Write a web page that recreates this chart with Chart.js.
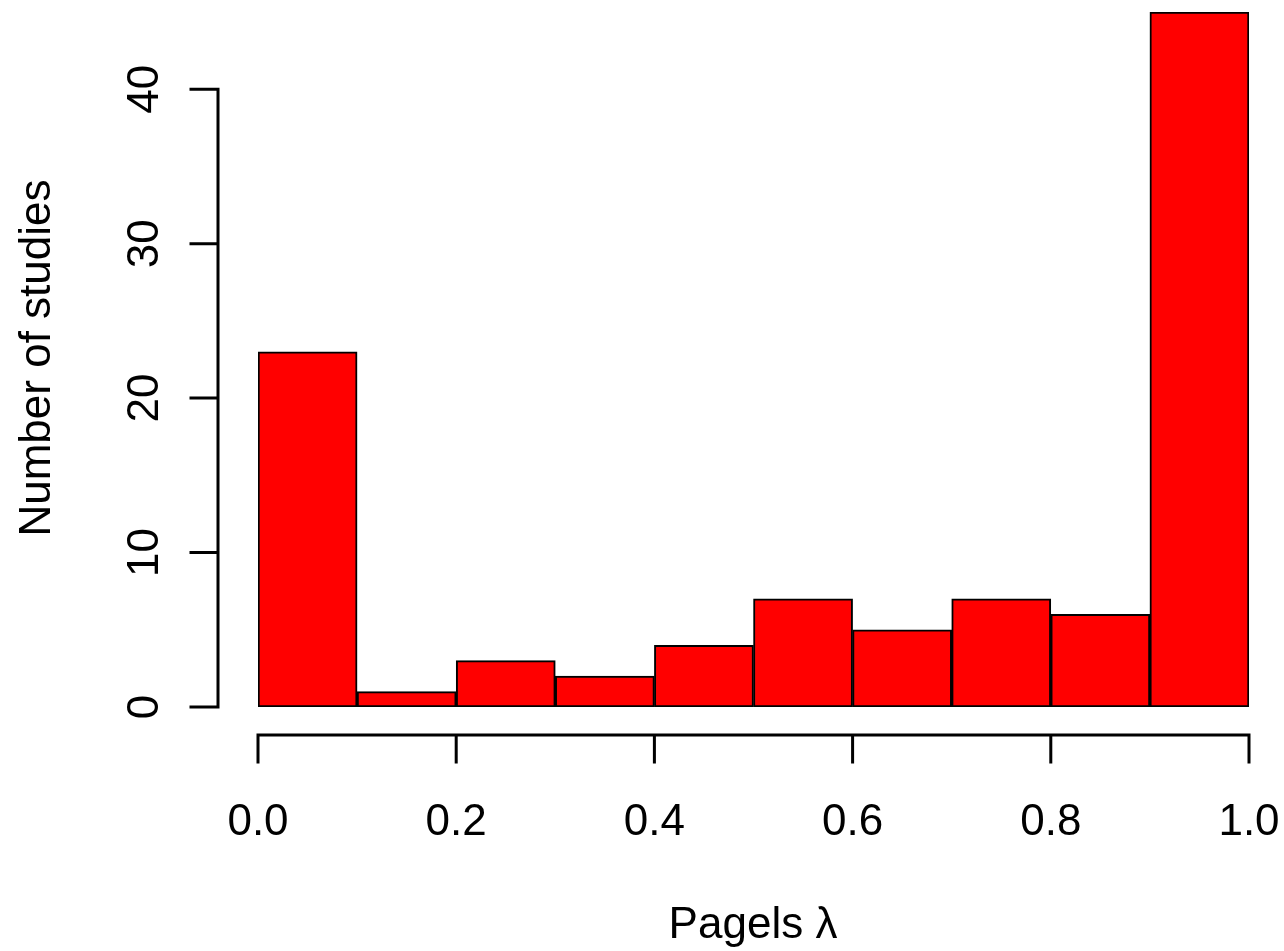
<!DOCTYPE html>
<html>
<head>
<meta charset="utf-8">
<script src="https://cdn.jsdelivr.net/npm/chart.js@4"></script>
<style>
  html, body { margin: 0; padding: 0; background: #fff; }
  canvas { display: block; }
</style>
</head>
<body>
<canvas id="hist" width="1284" height="951"></canvas>
<script>
// histogram bins (centres) and counts
const binCenters = [0.05, 0.15, 0.25, 0.35, 0.45, 0.55, 0.65, 0.75, 0.85, 0.95];
const counts = [23, 1, 3, 2, 4, 7, 5, 7, 6, 45];
const xTicks = [0, 0.2, 0.4, 0.6, 0.8, 1.0];
const yTicks = [0, 10, 20, 30, 40];
const xTitle = "Pagels \u03bb";
const yTitle = "Number of studies";

const FONT = '44px "Liberation Sans", Arial, sans-serif';

// R-style detached axes drawn from the chart's own scales
const rAxes = {
    id: "rAxes",
    afterDraw(chart) {
        let ctx = chart.ctx;
        let xs = chart.scales.x;
        let ys = chart.scales.y;
        let axisX = 218;
        let axisY = 735;
        let tick = 27;
        ctx.save();
        ctx.strokeStyle = "#000";
        ctx.fillStyle = "#000";
        ctx.lineWidth = 3;
        ctx.lineCap = "square";
        ctx.font = FONT;

        // y axis
        ctx.beginPath();
        ctx.moveTo(axisX, ys.getPixelForValue(yTicks[0]));
        ctx.lineTo(axisX, ys.getPixelForValue(yTicks[yTicks.length - 1]));
        yTicks.forEach(v => {
            let py = ys.getPixelForValue(v);
            ctx.moveTo(axisX, py);
            ctx.lineTo(axisX - tick, py);
        });
        ctx.stroke();
        ctx.textAlign = "center";
        ctx.textBaseline = "middle";
        yTicks.forEach(v => {
            let py = ys.getPixelForValue(v);
            ctx.save();
            ctx.translate(144, py);
            ctx.rotate(-Math.PI / 2);
            ctx.fillText(String(v), 0, 2);
            ctx.restore();
        });

        // x axis
        ctx.beginPath();
        ctx.moveTo(xs.getPixelForValue(xTicks[0]), axisY);
        ctx.lineTo(xs.getPixelForValue(xTicks[xTicks.length - 1]), axisY);
        xTicks.forEach(v => {
            let px = xs.getPixelForValue(v);
            ctx.moveTo(px, axisY);
            ctx.lineTo(px, axisY + tick);
        });
        ctx.stroke();
        xTicks.forEach(v => {
            ctx.fillText(v.toFixed(1), xs.getPixelForValue(v), 823);
        });

        // axis titles
        ctx.fillText(xTitle, 753, 926);
        ctx.save();
        ctx.translate(38, 358);
        ctx.rotate(-Math.PI / 2);
        ctx.fillText(yTitle, 0, 0);
        ctx.restore();
        ctx.restore();
    }
};

new Chart(document.getElementById("hist").getContext("2d"), {
    type: "bar",
    data: {
        datasets: [{
            data: binCenters.map((x, i) => ({ x: x, y: counts[i] })),
            backgroundColor: "#ff0000",
            borderColor: "#000000",
            borderWidth: 2,
            borderSkipped: false,
            barPercentage: 1,
            categoryPercentage: 1
        }]
    },
    options: {
        responsive: false,
        animation: false,
        layout: { padding: { left: 258, right: 35, top: 12, bottom: 244 } },
        plugins: { legend: { display: false }, tooltip: { enabled: false } },
        scales: {
            x: { type: "linear", min: 0, max: 1, offset: false, display: false },
            y: { type: "linear", min: 0, max: 45, display: false }
        }
    },
    plugins: [rAxes]
});
</script>
</body>
</html>
